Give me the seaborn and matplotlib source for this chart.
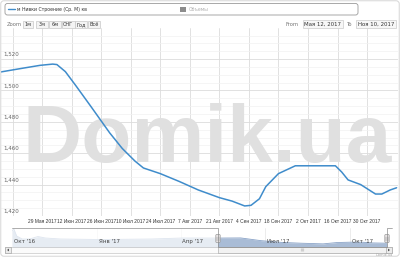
import matplotlib
matplotlib.use("Agg")
import matplotlib.pyplot as plt
import matplotlib.dates as mdates
from matplotlib.patches import FancyBboxPatch, Rectangle, Polygon
import seaborn as sns
import pandas as pd
import numpy as np

# ---- main series (price per m2) ----
dates = ["2017-05-09", "2017-05-19", "2017-05-28", "2017-06-03", "2017-06-05", "2017-06-09",
         "2017-06-14", "2017-06-21", "2017-06-30", "2017-07-06", "2017-07-12", "2017-07-16",
         "2017-07-24", "2017-08-02", "2017-08-11", "2017-08-21", "2017-08-27", "2017-09-02",
         "2017-09-05", "2017-09-09", "2017-09-12", "2017-09-18", "2017-09-26", "2017-10-15",
         "2017-10-18", "2017-10-21", "2017-10-27", "2017-11-03", "2017-11-06", "2017-11-10",
         "2017-11-13"]
values = [1511.7, 1514.0, 1516.0, 1516.8, 1516.5, 1512.0,
          1503.0, 1490.0, 1473.0, 1463.0, 1455.0, 1450.6,
          1447.0, 1442.0, 1436.6, 1431.7, 1429.5, 1426.4,
          1426.8, 1431.0, 1438.7, 1447.0, 1452.0, 1452.0,
          1448.0, 1443.0, 1440.0, 1434.0, 1434.0, 1436.6,
          1438.0]

tick_dates = ["2017-05-15", "2017-05-29", "2017-06-12", "2017-06-26", "2017-07-10", "2017-07-24",
              "2017-08-07", "2017-08-21", "2017-09-04", "2017-09-18", "2017-10-02", "2017-10-16",
              "2017-10-30"]
tick_labels = ["", "29 Мая 2017", "12 Июн 2017", "26 Июн 2017", "10 Июл 2017", "24 Июл 2017",
               "7 Авг 2017", "21 Авг 2017", "4 Сен 2017", "18 Сен 2017", "2 Окт 2017",
               "16 Окт 2017", "30 Окт 2017"]
y_ticks = [1420, 1440, 1460, 1480, 1500, 1520]
y_labels = ["1,420", "1,440", "1,460", "1,480", "1,500", "1,520"]

# ---- navigator series ----
nav_dates = ["2016-10-01", "2016-10-03", "2016-10-06", "2016-10-12", "2016-10-20", "2016-10-29",
             "2016-11-06", "2016-11-22", "2017-01-05", "2017-03-01", "2017-04-03", "2017-05-12",
             "2017-06-05", "2017-06-27", "2017-07-19", "2017-08-09", "2017-09-02", "2017-09-17",
             "2017-10-01", "2017-10-14", "2017-10-25", "2017-11-10"]
nav_values = [1620, 1650, 1545, 1500, 1500, 1537,
              1515, 1500, 1492, 1500, 1515, 1514,
              1516, 1475, 1449, 1437, 1427, 1447,
              1452, 1452, 1441, 1437]
nav_tick_dates = ["2016-10-01", "2017-01-01", "2017-04-01", "2017-07-01", "2017-10-01"]
nav_tick_labels = ["Окт '16", "Янв '17", "Апр '17", "Июл '17", "Окт '17"]

series_name = "м Нивки Строение (Ср. М) кв"
volume_name = "Объемы"
zoom_buttons = ["1м", "3м", "6м", "СНГ", "Год", "Всё"]
from_text = "Мая 12, 2017"
to_text = "Ноя 10, 2017"
watermark = "Domik.ua"

sns.set_style("white")
plt.rcParams["font.family"] = ["DejaVu Sans"]

W, H = 400, 258
fig = plt.figure(figsize=(4, 2.58), dpi=100)
fig.patch.set_facecolor("white")

def px(x0, y0, x1, y1):
    return [x0 / W, 1 - y1 / H, (x1 - x0) / W, (y1 - y0) / H]

LINE = "#3f8ccb"
GRID = "#dcdcdc"

# ---------------- main axes ----------------
ax = fig.add_axes(px(1, 28, 398, 216))
df = pd.DataFrame({"date": pd.to_datetime(dates), "value": values})
sns.lineplot(data=df, x="date", y="value", ax=ax, color=LINE, linewidth=1.1, zorder=3)
ax.set_xlim(pd.Timestamp("2017-05-09 12:00"), pd.Timestamp("2017-11-13 16:00"))
ax.set_ylim(1420, 1539.8)
ax.set_xlabel("")
ax.set_ylabel("")
for s in ax.spines.values():
    s.set_visible(False)
ax.set_xticks(pd.to_datetime(tick_dates))
ax.set_xticklabels(tick_labels, fontsize=3.55, color="#333333", family="Liberation Sans")
ax.tick_params(axis="x", length=0, pad=2.5)
ax.set_yticks(y_ticks)
ax.set_yticklabels([])
ax.tick_params(axis="y", length=0)
ax.set_yticks(np.arange(1425, 1540, 5), minor=True)
ax.grid(True, axis="x", color=GRID, linewidth=0.6, zorder=0)
ax.grid(True, axis="y", which="major", color=GRID, linewidth=0.6, zorder=0)
ax.grid(True, axis="y", which="minor", color="#f1f1f1", linewidth=0.5, zorder=0)
ax.tick_params(axis="y", which="minor", length=0)
for v, lab in zip(y_ticks, y_labels):
    ax.text(0.006, v + 1.3, lab, transform=ax.get_yaxis_transform(), fontsize=4,
            color="#666666", ha="left", va="bottom", zorder=4)
ax.text(0.519, 0.285, watermark, transform=ax.transAxes, fontsize=59,
        family="Liberation Sans", fontweight="bold", color="#e0e0e0",
        ha="center", va="baseline", zorder=2)

# ---------------- navigator ----------------
nav = fig.add_axes(px(12, 228, 387, 247))
ndf = pd.DataFrame({"date": pd.to_datetime(nav_dates), "value": nav_values})
nav.fill_between(ndf["date"], 1380, ndf["value"], color="#a9bcd6", linewidth=0, zorder=2)
sns.lineplot(data=ndf, x="date", y="value", ax=nav, color="#8aa3c7", linewidth=0.6, zorder=3)
nav.set_xlim(pd.Timestamp("2016-10-01"), pd.Timestamp("2017-11-10"))
nav.set_ylim(1380, 1665)
nav.set_xlabel("")
nav.set_ylabel("")
nav.set_yticks([])
nav.set_xticks(pd.to_datetime(nav_tick_dates))
nav.set_xticklabels([])
nav.tick_params(axis="x", length=0)
nav.grid(True, axis="x", color="#e4e4e4", linewidth=0.5, zorder=1)
for s in nav.spines.values():
    s.set_visible(False)
for d, lab in zip(nav_tick_dates, nav_tick_labels):
    nav.text(pd.Timestamp(d) + pd.Timedelta(days=2), 0.18, lab, transform=nav.get_xaxis_transform(),
             fontsize=4, color="#444444", ha="left", va="bottom", zorder=5)
sel0, sel1 = pd.Timestamp("2017-05-12"), pd.Timestamp("2017-11-10")
nav.axvspan(pd.Timestamp("2016-10-01"), sel0, color="white", alpha=0.72, zorder=4, linewidth=0)

# ---------------- overlay (widgets) ----------------
ov = fig.add_axes([0, 0, 1, 1], zorder=5)
ov.set_xlim(0, W)
ov.set_ylim(H, 0)
ov.axis("off")
ov.patch.set_alpha(0)

# outer frame
ov.add_patch(FancyBboxPatch((0.8, 0.8), W - 1.6, H - 2.6, boxstyle="round,pad=0,rounding_size=3",
                            fill=False, edgecolor="#d0d0d0", linewidth=0.6))
# legend box
ov.add_patch(FancyBboxPatch((5, 3.5), 353, 11.5, boxstyle="round,pad=0,rounding_size=2.5",
                            facecolor="white", edgecolor="#9a9a9a", linewidth=0.6))
ov.plot([8, 15], [9.3, 9.3], color=LINE, linewidth=1.0)
ov.text(17, 9.4, series_name, fontsize=3.3, color="#333333", va="center", ha="left")
ov.add_patch(Rectangle((180, 6.5), 6, 5, facecolor="#8c8c8c", edgecolor="none"))
ov.text(189, 9.4, volume_name, fontsize=3.3, color="#b0b0b0", va="center", ha="left")

# zoom buttons
ov.text(7, 24.3, "Zoom", fontsize=3.8, color="#777777", va="center", ha="left")
bx = [23, 36, 49, 62, 75, 87.5]
bw = [9.5, 11.5, 11.5, 12.5, 12, 12.5]
for x0, w, lab in zip(bx, bw, zoom_buttons):
    ov.add_patch(Rectangle((x0, 20.5), w, 7.5, facecolor="#f4f4f4", edgecolor="#c8c8c8", linewidth=0.5))
    ov.text(x0 + w / 2, 24.4, lab, fontsize=3.6, color="#333333", va="center", ha="center")
ov.text(286, 24.3, "From", fontsize=3.8, color="#777777", va="center", ha="left")
ov.add_patch(Rectangle((303, 20.3), 39.5, 8, facecolor="#f7f7f7", edgecolor="#cccccc", linewidth=0.5))
ov.text(322.7, 24.4, from_text, fontsize=3.9, color="#333333", va="center", ha="center")
ov.text(347, 24.3, "To", fontsize=3.8, color="#777777", va="center", ha="left")
ov.add_patch(Rectangle((356, 20.3), 39.5, 8, facecolor="#f7f7f7", edgecolor="#cccccc", linewidth=0.5))
ov.text(375.7, 24.4, to_text, fontsize=3.9, color="#333333", va="center", ha="center")

# navigator outline & handles
ov.plot([12, 218, 218, 387, 387, 392], [228.3, 228.3, 247, 247, 228.3, 228.3],
        color="#8c8c8c", linewidth=0.5)
for hx in (218, 387):
    ov.add_patch(FancyBboxPatch((hx - 2.2, 234.5), 4.4, 8, boxstyle="round,pad=0,rounding_size=1",
                                facecolor="#ebe7e8", edgecolor="#999999", linewidth=0.5))
    ov.plot([hx - 0.6, hx - 0.6], [236.5, 240.5], color="#777777", linewidth=0.3)
    ov.plot([hx + 0.6, hx + 0.6], [236.5, 240.5], color="#777777", linewidth=0.3)

# scrollbar
ov.add_patch(Rectangle((5, 247.3), 387, 5.4, facecolor="#fbfbfb", edgecolor="#bbbbbb", linewidth=0.4))
ov.add_patch(Rectangle((218, 247.3), 169, 5.4, facecolor="#f2f2f2", edgecolor="#a0a0a0", linewidth=0.4))
for gy in (249.3, 250.0, 250.7):
    ov.plot([300.5, 303.5], [gy, gy], color="#888888", linewidth=0.25)
ov.add_patch(Rectangle((5, 247.3), 6, 5.4, facecolor="#ececec", edgecolor="#999999", linewidth=0.4))
ov.add_patch(Polygon([[9, 248.6], [9, 251.4], [7, 250]], closed=True, facecolor="#555555", edgecolor="none"))
ov.add_patch(Rectangle((386, 247.3), 6, 5.4, facecolor="#ececec", edgecolor="#999999", linewidth=0.4))
ov.add_patch(Polygon([[388, 248.6], [388, 251.4], [390, 250]], closed=True, facecolor="#555555", edgecolor="none"))
ov.text(393, 255.3, watermark, fontsize=2.6, color="#aaaaaa", ha="right", va="center")

fig.savefig("out.png", dpi=100, facecolor="white")
